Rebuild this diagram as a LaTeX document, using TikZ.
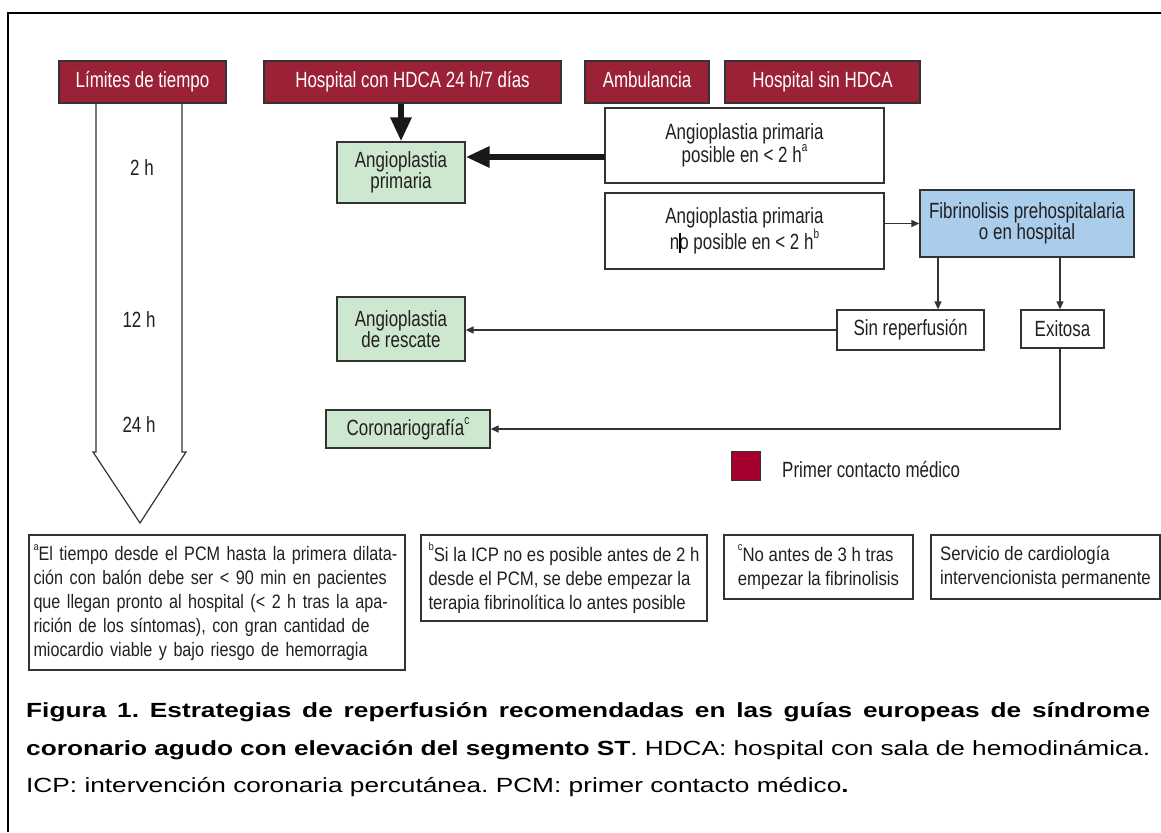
\documentclass[tikz,border=0pt]{standalone}
\usepackage{fontspec}
\setmainfont{Liberation Sans}
\newfontfamily\cond[FakeStretch=0.77]{Liberation Sans}
\newfontfamily\fnfont[FakeStretch=0.86]{Liberation Sans}
\newfontfamily\fnfonta[FakeStretch=0.83]{Liberation Sans}
\newfontfamily\capfont[FakeStretch=1.28]{Liberation Sans}
\usetikzlibrary{arrows.meta}
\definecolor{maroon}{HTML}{9B2236}
\definecolor{legred}{HTML}{A3002D}
\definecolor{gfill}{HTML}{CDE8CF}
\definecolor{bfill}{HTML}{A9CDEB}
\definecolor{edge}{HTML}{333333}
\definecolor{ink}{HTML}{231F20}
\newcommand\fsup[1]{\raisebox{0.55em}{\fontsize{11}{11}\selectfont #1}}
\newcommand\bsup[1]{\raisebox{0.5em}{\fontsize{13}{13}\selectfont #1}}
\begin{document}
\begin{tikzpicture}[x=1pt,y=-1pt,
  df/.style={font=\cond\fontsize{22}{20.5}\selectfont, text=ink},
  ff/.style={font=\fnfont\fontsize{19.5}{24}\selectfont, text=ink},
  hdr/.style={df, fill=maroon, draw=edge, line width=1.3pt, text=white, minimum height=42pt, inner sep=0pt, text height=16pt, text depth=4.5pt},
  gbox/.style={df, fill=gfill, draw=edge, line width=1.3pt, inner sep=0pt, align=center},
  wbox/.style={df, fill=white, draw=edge, line width=1.3pt, inner sep=0pt, align=center},
  bbox/.style={df, fill=bfill, draw=edge, line width=1.3pt, inner sep=0pt, align=center},
  fbox/.style={ff, draw=edge, line width=1.3pt, inner sep=0pt, align=left},
  tlabel/.style={df},
  bigarrow/.style={draw=black!90, line width=6pt, -{Triangle[length=24pt,width=20pt]}},
  thinarrow/.style={draw=edge, line width=1.4pt, -{Triangle[length=8pt,width=7pt]}},
  thinline/.style={draw=edge, line width=1.4pt},
  captext/.style={anchor=west, inner sep=0pt, font=\capfont\fontsize{20.5}{28}\selectfont\frenchspacing, text=black}
]
\useasboundingbox (0,0) rectangle (1161,832);
% frame
\draw[line width=2.7pt] (8,832) -- (8,13) -- (1161,13);

% headers
\node[hdr, minimum width=167pt] (lim) at (142.5,82) {Límites de tiempo};
\node[hdr, minimum width=297pt] (hcon) at (412.5,82) {Hospital con HDCA 24 h/7 días};
\node[hdr, minimum width=124pt] (amb) at (647,82) {Ambulancia};
\node[hdr, minimum width=195pt] (hsin) at (822.5,82) {Hospital sin HDCA};

% time arrow
\draw[thinline, line width=1.2pt] (96,103) -- (96,452) -- (93,452) -- (140,523) -- (186,452) -- (182,452) -- (182,103);
\node[tlabel] (t2) at (142,168) {2 h};
\node[tlabel] (t12) at (139,320) {12 h};
\node[tlabel] (t24) at (139,425) {24 h};

% boxes
\node[gbox, minimum width=128pt, minimum height=61pt] (ap) at (401,172.5) {Angioplastia\\primaria};
\node[wbox, minimum width=279pt, minimum height=75pt] (pos) at (744.5,145.5) {Angioplastia primaria\\posible en < 2 h\bsup{a}};
\node[wbox, minimum width=279pt, minimum height=76pt] (npos) at (744.5,231) {Angioplastia primaria\\no posible en < 2 h\bsup{b}};
\node[bbox, minimum width=214pt, minimum height=67pt] (fib) at (1027,223.5) {Fibrinolisis prehospitalaria\\o en hospital};
\node[wbox, minimum width=147pt, minimum height=40pt] (sinr) at (910.5,330) {Sin reperfusión};
\node[wbox, minimum width=83pt, minimum height=38pt] (exi) at (1062.5,329) {Exitosa};
\node[gbox, minimum width=128pt, minimum height=64pt] (resc) at (401,329) {Angioplastia\\de rescate};
\node[gbox, minimum width=164pt, minimum height=38pt] (cor) at (408,429) {Coronariografía\bsup{c}};

% cursor mark
\draw[line width=1.2pt, black] (680,233) -- (680,253);

% connectors
\coordinate (pa) at (605,157);
\draw[bigarrow] (ap.north |- hcon.south) -- (ap.north);
\draw[bigarrow] (pa) -- (pa -| ap.east);
\draw[thinarrow] (npos.east |- fib.west) -- (fib.west);
\coordinate (c1) at (938,0);
\coordinate (c2) at (1060,0);
\draw[thinarrow] (fib.south -| c1) -- (sinr.north -| c1);
\draw[thinarrow] (fib.south -| c2) -- (exi.north -| c2);
\draw[thinarrow] (sinr.west) -- (sinr.west -| resc.east);
\draw[thinarrow] (exi.south -| c2) |- (cor.east);

% legend
\node[fill=legred, draw=edge, line width=1pt, minimum size=29pt, inner sep=0pt] (leg) at (745.5,465.5) {};
\node[df, anchor=west, inner sep=0pt] (legt) at (782,470) {Primer contacto médico};

% footnotes
\node[fbox, font=\fnfonta\fontsize{19.5}{24}\selectfont, text width=367pt, inner xsep=4.5pt, minimum height=135pt] (fa) at (217,602.5) {%
\makebox[367pt][s]{\fsup{a}El tiempo desde el PCM hasta la primera dilata-}\\
\makebox[367pt][s]{ción con balón debe ser < 90 min en pacientes}\\
\makebox[367pt][s]{que llegan pronto al hospital (< 2 h tras la apa-}\\
\makebox[367pt][s]{rición de los síntomas), con gran cantidad de}\\
miocardio viable y bajo riesgo de hemorragia};
\node[fbox, minimum width=286pt, minimum height=86pt] (fb) at (564,578) {%
\fsup{b}Si la ICP no es posible antes de 2 h\\
desde el PCM, se debe empezar la\\
terapia fibrinolítica lo antes posible};
\node[fbox, minimum width=189pt, minimum height=64pt] (fc) at (818.5,567) {%
\fsup{c}No antes de 3 h tras\\
empezar la fibrinolisis};
\node[fbox, minimum width=229pt, minimum height=64pt] (fd) at (1045.5,567) {%
Servicio de cardiología\\
intervencionista permanente};

% caption
\node[captext] (cap1) at (26,712) {\makebox[1124pt][s]{\bfseries Figura 1. Estrategias de reperfusión recomendadas en las guías europeas de síndrome}};
\node[captext] (cap2) at (26,750) {\makebox[1124pt][s]{\textbf{coronario agudo con elevación del segmento ST}. HDCA: hospital con sala de hemodinámica.}};
\node[captext] (cap3) at (26,787) {ICP: intervención coronaria percutánea. PCM: primer contacto médico\textbf{.}};
\end{tikzpicture}
\end{document}
